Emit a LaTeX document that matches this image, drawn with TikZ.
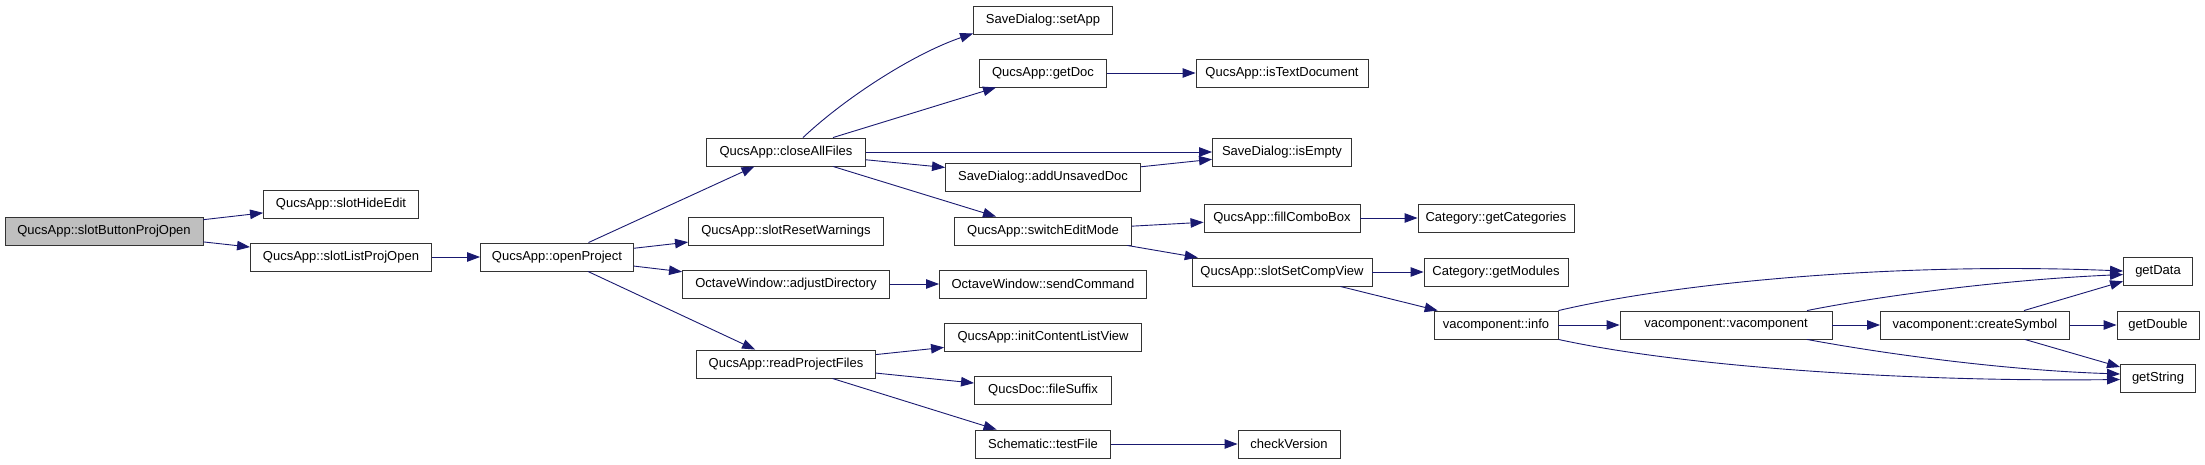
\documentclass[tikz,border=0pt]{standalone}
\usepackage{fontspec}
\setmainfont{Liberation Sans}
\usetikzlibrary{arrows.meta}

\definecolor{edgeblue}{HTML}{191970}
\definecolor{rootgray}{HTML}{BFBFBF}

\tikzset{
  fn/.style={draw=black!80, line width=0.9pt, fill=white, inner sep=0pt,
    minimum height=28pt, font=\fontsize{13}{15}\selectfont},
  root/.style={fn, fill=rootgray},
  call/.style={draw=edgeblue, line width=0.9pt,
    -{Triangle[length=13pt,width=9.5pt]}},
}

\begin{document}
\begin{tikzpicture}[x=1pt,y=-1pt]
\useasboundingbox (0,0) rectangle (2205,464);

% FIRST COLUMNS
\node[root, minimum width=198pt] (bpo) at (104,231) {QucsApp::slotButtonProjOpen};
\node[fn, minimum width=155pt] (hideedit) at (341,204) {QucsApp::slotHideEdit};
\node[fn, minimum width=181pt] (listopen) at (341,257) {QucsApp::slotListProjOpen};
\node[fn, minimum width=153pt] (openproj) at (557,257) {QucsApp::openProject};

\node[fn, minimum width=159pt] (closeall) at (786,152) {QucsApp::closeAllFiles};
\node[fn, minimum width=195pt] (resetwarn) at (786,231) {QucsApp::slotResetWarnings};
\node[fn, minimum width=207pt] (adjustdir) at (786,284) {OctaveWindow::adjustDirectory};
\node[fn, minimum width=179pt] (readproj) at (786,364) {QucsApp::readProjectFiles};

% MIDDLE COLUMN
\node[fn, minimum width=139pt] (setapp) at (1043,20) {SaveDialog::setApp};
\node[fn, minimum width=127pt] (getdoc) at (1043,73) {QucsApp::getDoc};
\node[fn, minimum width=195pt] (addunsaved) at (1043,177) {SaveDialog::addUnsavedDoc};
\node[fn, minimum width=177pt] (switchedit) at (1043,231) {QucsApp::switchEditMode};
\node[fn, minimum width=207pt] (sendcmd) at (1043,284) {OctaveWindow::sendCommand};
\node[fn, minimum width=197pt] (initcontent) at (1043,337) {QucsApp::initContentListView};
\node[fn, minimum width=137pt] (filesuffix) at (1043,390) {QucsDoc::fileSuffix};
\node[fn, minimum width=135pt] (testfile) at (1043,444) {Schematic::testFile};

\node[fn, minimum width=172pt] (istext) at (1282,73) {QucsApp::isTextDocument};
\node[fn, minimum width=139pt] (isempty) at (1282,152) {SaveDialog::isEmpty};
\node[fn, minimum width=156pt] (fillcombo) at (1282,218) {QucsApp::fillComboBox};
\node[fn, minimum width=180pt] (setcompview) at (1282,272) {QucsApp::slotSetCompView};
\node[fn, minimum width=102pt] (checkver) at (1289,444) {checkVersion};

% RIGHT PART
\node[fn, minimum width=156pt] (getcat) at (1496,218) {Category::getCategories};
\node[fn, minimum width=144pt] (getmod) at (1496,272) {Category::getModules};
\node[fn, minimum width=124pt] (info) at (1496,325) {vacomponent::info};
\node[fn, minimum width=212pt] (vacomp) at (1726,325) {vacomponent::vacomponent};
\node[fn, minimum width=189pt] (createsym) at (1975,325) {vacomponent::createSymbol};

\node[fn, minimum width=69pt] (getdata) at (2158,271) {getData};
\node[fn, minimum width=82pt] (getdouble) at (2158,325) {getDouble};
\node[fn, minimum width=75pt] (getstring) at (2158,378) {getString};

% ARROWS

\draw[call] (bpo) -- (hideedit);
\draw[call] (bpo) -- (listopen);
\draw[call] (listopen) -- (openproj);

\draw[call] (openproj) -- (closeall);
\draw[call] (openproj) -- (resetwarn);
\draw[call] (openproj) -- (adjustdir);
\draw[call] (openproj) -- (readproj);

\draw[call] ([xshift=17pt]closeall.north) .. controls (845,98) and (913,54) .. ([yshift=1pt]setapp.south west);
\draw[call] (closeall) -- (getdoc);
\draw[call] (closeall) -- (isempty);
\draw[call] (closeall) -- (addunsaved);
\draw[call] (closeall) -- (switchedit);

\draw[call] (getdoc) -- (istext);
\draw[call] (addunsaved) -- (isempty);
\draw[call] (switchedit) -- (fillcombo);
\draw[call] (switchedit) -- (setcompview);
\draw[call] (adjustdir) -- (sendcmd);

\draw[call] (readproj) -- (initcontent);
\draw[call] (readproj) -- (filesuffix);
\draw[call] (readproj) -- (testfile);
\draw[call] (testfile) -- (checkver);

\draw[call] (fillcombo) -- (getcat);
\draw[call] (setcompview) -- (getmod);
\draw[call] (setcompview) -- (info);

\draw[call] (info.north east) .. controls (1680,282) and (1900,262) .. (getdata.west);
\draw[call] (info) -- (vacomp);
\draw[call] (info.south east) .. controls (1680,366) and (1900,382) .. ([yshift=-1.5pt]getstring.west);

\draw[call] ([xshift=81pt]vacomp.north) .. controls (1880,296) and (2000,280) .. ([yshift=-3.5pt]getdata.west);
\draw[call] (vacomp) -- (createsym);
\draw[call] ([xshift=81pt]vacomp.south) .. controls (1880,353) and (2000,370) .. ([yshift=4pt]getstring.west);

\draw[call] (createsym) -- (getdata);
\draw[call] (createsym) -- (getdouble);
\draw[call] (createsym) -- (getstring);

\end{tikzpicture}
\end{document}
